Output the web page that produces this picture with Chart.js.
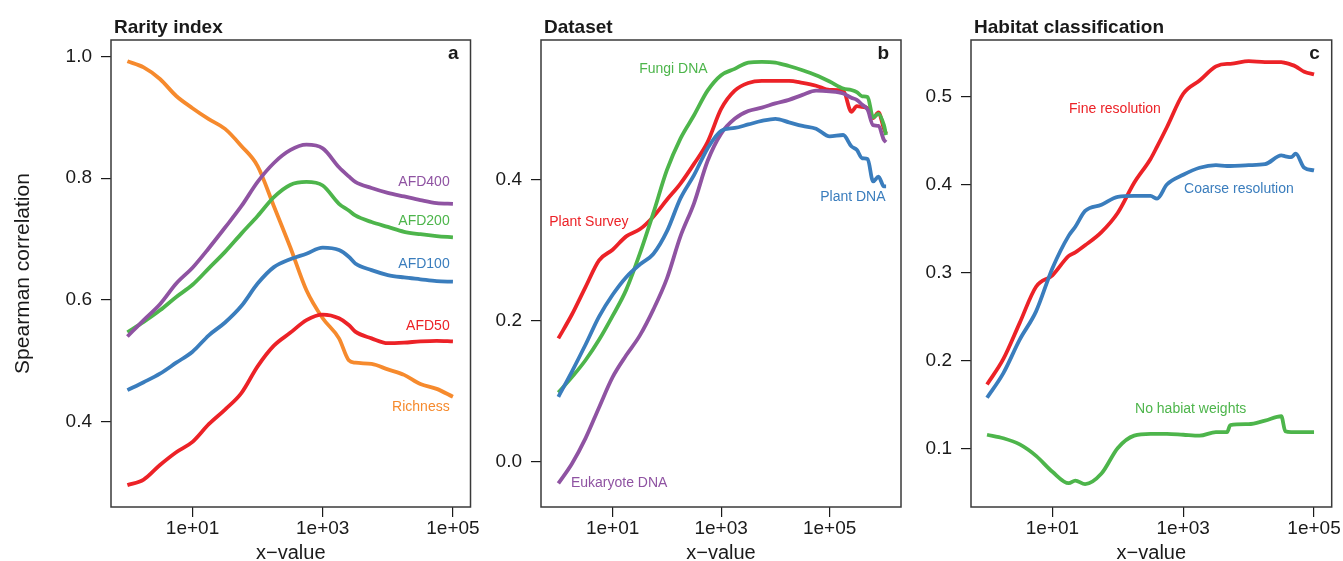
<!DOCTYPE html>
<html>
<head>
<meta charset="utf-8">
<script src="https://cdn.jsdelivr.net/npm/chart.js@4.4.0/dist/chart.umd.min.js"></script>
<style>
    body { margin: 0; background: #fff; width: 1343px; height: 561px; overflow: hidden; position: relative; }
    .panel { position: absolute; top: 0; height: 561px; }
</style>
</head>
<body>
<div class="panel" style="left:0;width:480px"><canvas id="chartA"></canvas></div>
<div class="panel" style="left:480px;width:430px"><canvas id="chartB"></canvas></div>
<div class="panel" style="left:910px;width:433px"><canvas id="chartC"></canvas></div>
<script>
// x positions are given as exponents (x = 10^e)
const xTickValues = [10, 1000, 100000];

// Panel a - Rarity index
const expA = [0, 0.25, 0.5, 0.75, 1, 1.25, 1.5, 1.75, 2, 2.25, 2.5, 2.75, 3, 3.25, 3.4, 3.5, 3.75, 4, 4.25, 4.5, 4.75, 5];
const afd400 = [0.540, 0.567, 0.593, 0.627, 0.653, 0.685, 0.719, 0.754, 0.794, 0.825, 0.846, 0.855, 0.849, 0.818, 0.803, 0.794, 0.784, 0.776, 0.770, 0.764, 0.759, 0.758];
const afd200 = [0.547, 0.564, 0.583, 0.605, 0.625, 0.652, 0.679, 0.709, 0.738, 0.769, 0.789, 0.794, 0.788, 0.758, 0.747, 0.739, 0.728, 0.720, 0.712, 0.708, 0.705, 0.703];
const afd100 = [0.452, 0.465, 0.479, 0.497, 0.515, 0.542, 0.563, 0.590, 0.627, 0.654, 0.667, 0.676, 0.686, 0.682, 0.671, 0.660, 0.649, 0.641, 0.637, 0.634, 0.631, 0.630];
const afd50 = [0.296, 0.305, 0.329, 0.350, 0.367, 0.396, 0.420, 0.447, 0.491, 0.525, 0.546, 0.567, 0.576, 0.570, 0.559, 0.548, 0.537, 0.529, 0.530, 0.532, 0.533, 0.532];
const richness = [0.992, 0.982, 0.963, 0.935, 0.915, 0.897, 0.881, 0.853, 0.820, 0.754, 0.687, 0.616, 0.570, 0.537, 0.501, 0.497, 0.495, 0.486, 0.477, 0.462, 0.454, 0.441];
const yTicksA = [0.4, 0.6, 0.8, 1.0];

// Panel b - Dataset
const expB = [0, 0.25, 0.5, 0.75, 1, 1.25, 1.5, 1.75, 2, 2.25, 2.5, 2.75, 3, 3.25, 3.5, 3.75, 4, 4.25, 4.5, 4.75, 5, 5.25, 5.4, 5.5, 5.6, 5.7, 5.8, 5.9, 6.0, 6.04];
const plantSurvey = [0.175, 0.209, 0.248, 0.286, 0.301, 0.320, 0.330, 0.348, 0.372, 0.395, 0.423, 0.454, 0.501, 0.527, 0.538, 0.541, 0.541, 0.541, 0.538, 0.534, 0.528, 0.527, 0.497, 0.505, 0.504, 0.502, 0.488, 0.496, 0.473, 0.466];
const fungiDNA = [0.098, 0.120, 0.144, 0.173, 0.207, 0.244, 0.295, 0.353, 0.414, 0.459, 0.492, 0.527, 0.549, 0.558, 0.567, 0.568, 0.567, 0.562, 0.556, 0.549, 0.540, 0.530, 0.528, 0.525, 0.519, 0.518, 0.489, 0.494, 0.478, 0.464];
const plantDNA = [0.092, 0.128, 0.166, 0.206, 0.237, 0.262, 0.280, 0.295, 0.327, 0.374, 0.407, 0.445, 0.470, 0.474, 0.479, 0.484, 0.487, 0.482, 0.477, 0.473, 0.462, 0.464, 0.448, 0.443, 0.431, 0.430, 0.398, 0.405, 0.391, 0.391];
const eukaryoteDNA = [-0.031, -0.003, 0.033, 0.077, 0.120, 0.151, 0.179, 0.216, 0.260, 0.320, 0.367, 0.427, 0.466, 0.487, 0.498, 0.503, 0.509, 0.514, 0.521, 0.527, 0.526, 0.523, 0.517, 0.514, 0.507, 0.500, 0.478, 0.477, 0.457, 0.454];
const yTicksB = [0.0, 0.2, 0.4];

// Panel c - Habitat classification
const expC = [0, 0.25, 0.5, 0.75, 1, 1.25, 1.35, 1.5, 1.75, 2, 2.25, 2.5, 2.6, 2.75, 3, 3.25, 3.5, 3.67, 3.72, 4, 4.25, 4.5, 4.56, 4.65, 4.72, 4.85, 5];
const fineRes = [0.173, 0.202, 0.243, 0.284, 0.297, 0.319, 0.323, 0.331, 0.346, 0.368, 0.402, 0.429, 0.443, 0.465, 0.503, 0.518, 0.534, 0.537, 0.537, 0.540, 0.539, 0.539, 0.538, 0.536, 0.534, 0.528, 0.525];
const coarseRes = [0.158, 0.186, 0.224, 0.256, 0.305, 0.342, 0.352, 0.370, 0.377, 0.386, 0.387, 0.387, 0.384, 0.400, 0.411, 0.419, 0.422, 0.421, 0.421, 0.422, 0.423, 0.433, 0.432, 0.431, 0.435, 0.419, 0.416];
const noWeights = [0.116, 0.112, 0.105, 0.092, 0.074, 0.061, 0.064, 0.060, 0.072, 0.101, 0.115, 0.117, 0.117, 0.117, 0.116, 0.115, 0.119, 0.119, 0.127, 0.128, 0.132, 0.137, 0.120, 0.119, 0.119, 0.119, 0.119];
const yTicksC = [0.1, 0.2, 0.3, 0.4, 0.5];

// colours
const RED = '#ec2227', BLUE = '#3a7dbd', GREEN = '#4db54b', PURPLE = '#8f53a2', ORANGE = '#f68a2d';
const FONT = "'Liberation Sans', Arial, sans-serif";
const INK = '#1a1a1a';
const FRAME = '#3a3a3a';

function expLabel(v) {
    const e = Math.round(Math.log10(v));
    return '1e+' + String(e).padStart(2, '0');
}

// frame, panel title, corner letter and the series labels
const panelDecor = {
    id: 'panelDecor',
    afterDatasetsDraw(chart, args, opts) {
        const {ctx, chartArea: a, scales} = chart;
        ctx.save();
        ctx.strokeStyle = FRAME;
        ctx.lineWidth = 1.5;
        ctx.strokeRect(a.left, a.top, a.right - a.left, a.bottom - a.top);

        ctx.fillStyle = INK;
        ctx.font = 'bold 19px ' + FONT;
        ctx.textBaseline = 'alphabetic';
        ctx.textAlign = 'left';
        ctx.fillText(opts.title, a.left + 3, 33);
        ctx.textAlign = 'right';
        ctx.fillText(opts.letter, a.right - 12, 59);

        ctx.font = '14px ' + FONT;
        ctx.textBaseline = 'middle';
        opts.labels.forEach(lb => {
            ctx.fillStyle = lb.color;
            ctx.textAlign = lb.align;
            ctx.fillText(lb.text, scales.x.getPixelForValue(Math.pow(10, lb.e)), scales.y.getPixelForValue(lb.y));
        });
        ctx.restore();
    }
};

function makeChart(id, cfg) {
    const datasets = cfg.series.map(s => ({
        data: cfg.exps.map((e, i) => ({x: Math.pow(10, e), y: s.values[i]})),
        borderColor: s.color,
        borderWidth: 3.8,
        pointRadius: 0,
        cubicInterpolationMode: 'monotone',
        fill: false
    }));

    return new Chart(document.getElementById(id), {
        type: 'line',
        data: {datasets: datasets},
        options: {
            responsive: true,
            maintainAspectRatio: false,
            animation: false,
            events: [],
            layout: {padding: {top: 40, right: cfg.padRight, left: 0, bottom: 0}},
            plugins: {
                legend: {display: false},
                tooltip: {enabled: false},
                panelDecor: {title: cfg.title, letter: cfg.letter, labels: cfg.labels}
            },
            scales: {
                x: {
                    type: 'logarithmic',
                    bounds: 'data',
                    min: Math.pow(10, cfg.xRange[0]),
                    max: Math.pow(10, cfg.xRange[1]),
                    afterBuildTicks: sc => { sc.ticks = xTickValues.map(v => ({value: v})); },
                    afterFit: sc => { sc.height = 54; },
                    ticks: {
                        callback: v => expLabel(v),
                        font: {family: FONT, size: 19},
                        color: INK,
                        padding: 0,
                        maxRotation: 0,
                        autoSkip: false
                    },
                    grid: {drawOnChartArea: false, tickLength: 10, color: INK, lineWidth: 1.2},
                    border: {display: false},
                    title: {
                        display: true,
                        text: 'x\u2212value',
                        color: INK,
                        font: {family: FONT, size: 20, lineHeight: 1.2},
                        padding: {top: 0, bottom: -4}
                    }
                },
                y: {
                    type: 'linear',
                    bounds: 'data',
                    min: cfg.yRange[0],
                    max: cfg.yRange[1],
                    afterBuildTicks: sc => { sc.ticks = cfg.yTicks.map(v => ({value: v})); },
                    afterFit: sc => { sc.width = cfg.yWidth; },
                    ticks: {
                        callback: v => v.toFixed(1),
                        font: {family: FONT, size: 19},
                        color: INK,
                        padding: 9
                    },
                    grid: {drawOnChartArea: false, tickLength: 10, color: INK, lineWidth: 1.2},
                    border: {display: false},
                    title: {
                        display: cfg.yTitle !== '',
                        text: cfg.yTitle,
                        color: INK,
                        font: {family: FONT, size: 21, lineHeight: 1.2},
                        padding: {top: 11, bottom: 0}
                    }
                }
            }
        },
        plugins: [panelDecor]
    });
}

makeChart('chartA', {
    title: 'Rarity index', letter: 'a', yTitle: 'Spearman correlation',
    exps: expA, xRange: [-0.252, 5.27], yRange: [0.26, 1.027], yTicks: yTicksA,
    yWidth: 111, padRight: 8,
    series: [
        {values: afd400, color: PURPLE},
        {values: afd200, color: GREEN},
        {values: afd100, color: BLUE},
        {values: afd50, color: RED},
        {values: richness, color: ORANGE}
    ],
    labels: [
        {text: 'AFD400', e: 4.95, y: 0.793, color: PURPLE, align: 'right'},
        {text: 'AFD200', e: 4.95, y: 0.730, color: GREEN, align: 'right'},
        {text: 'AFD100', e: 4.95, y: 0.659, color: BLUE, align: 'right'},
        {text: 'AFD50', e: 4.95, y: 0.557, color: RED, align: 'right'},
        {text: 'Richness', e: 4.95, y: 0.424, color: ORANGE, align: 'right'}
    ]
});

makeChart('chartB', {
    title: 'Dataset', letter: 'b', yTitle: '',
    exps: expB, xRange: [-0.32, 6.315], yRange: [-0.0645, 0.599], yTicks: yTicksB,
    yWidth: 61, padRight: 9,
    series: [
        {values: plantDNA, color: BLUE},
        {values: eukaryoteDNA, color: PURPLE},
        {values: fungiDNA, color: GREEN},
        {values: plantSurvey, color: RED}
    ],
    labels: [
        {text: 'Fungi DNA', e: 1.49, y: 0.557, color: GREEN, align: 'left'},
        {text: 'Plant Survey', e: -0.168, y: 0.340, color: RED, align: 'left'},
        {text: 'Eukaryote DNA', e: 0.232, y: -0.031, color: PURPLE, align: 'left'},
        {text: 'Plant DNA', e: 6.03, y: 0.376, color: BLUE, align: 'right'}
    ]
});

makeChart('chartC', {
    title: 'Habitat classification', letter: 'c', yTitle: '',
    exps: expC, xRange: [-0.245, 5.27], yRange: [0.034, 0.564], yTicks: yTicksC,
    yWidth: 61, padRight: 11.3,
    series: [
        {values: coarseRes, color: BLUE},
        {values: fineRes, color: RED},
        {values: noWeights, color: GREEN}
    ],
    labels: [
        {text: 'Fine resolution', e: 1.254, y: 0.485, color: RED, align: 'left'},
        {text: 'Coarse resolution', e: 3.012, y: 0.395, color: BLUE, align: 'left'},
        {text: 'No habiat weights', e: 2.263, y: 0.145, color: GREEN, align: 'left'}
    ]
});
</script>
</body>
</html>
